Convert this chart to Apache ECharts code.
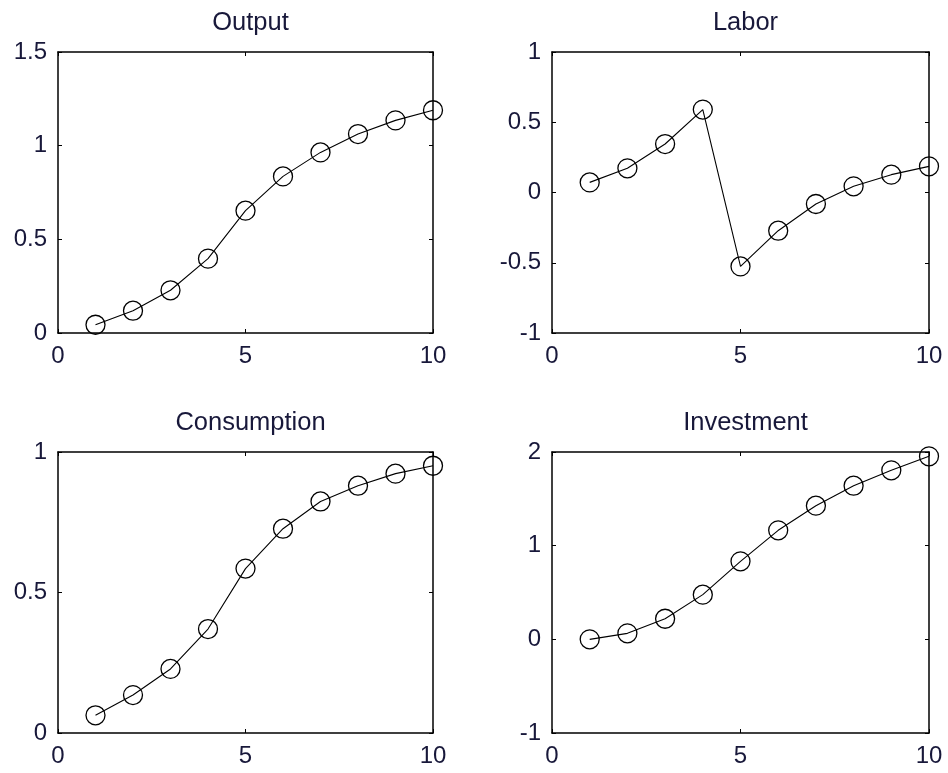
<!DOCTYPE html>
<html>
<head>
<meta charset="utf-8">
<script src="https://cdn.jsdelivr.net/npm/echarts@6/dist/echarts.min.js"></script>
<style>
html,body{margin:0;padding:0;background:#fff;}
#main{width:948px;height:773px;}
</style>
</head>
<body>
<div id="main"></div>
<script>
var periods = [1, 2, 3, 4, 5, 6, 7, 8, 9, 10];
var titles = ['Output', 'Labor', 'Consumption', 'Investment'];
var output = [0.044, 0.119, 0.228, 0.397, 0.653, 0.836, 0.964, 1.062, 1.135, 1.189];
var labor = [0.072, 0.172, 0.345, 0.590, -0.526, -0.272, -0.082, 0.044, 0.127, 0.186];
var consumption = [0.063, 0.135, 0.228, 0.370, 0.585, 0.727, 0.824, 0.880, 0.923, 0.951];
var investment = [0.000, 0.064, 0.220, 0.477, 0.833, 1.164, 1.427, 1.640, 1.804, 1.954];
var yRanges = [[0, 1.5, 0.5], [-1, 1, 0.5], [0, 1, 0.5], [-1, 2, 1]];
var xRange = [0, 10, 5];

var seriesValues = [output, labor, consumption, investment];
var gridBoxes = [
  {left: 58, top: 52, width: 375, height: 281},
  {left: 552, top: 52, width: 377, height: 281},
  {left: 58, top: 452, width: 375, height: 281},
  {left: 552, top: 452, width: 377, height: 281}
];
var textColor = '#18183a';
var fontFam = 'Liberation Sans, Arial, sans-serif';

var option = {
  backgroundColor: '#fff',
  animation: false,
  title: [], grid: [], xAxis: [], yAxis: [], series: []
};

function fmt(v) { return String(Math.round(v * 100) / 100); }

gridBoxes.forEach(function (g, i) {
  option.grid.push({left: g.left, top: g.top, width: g.width, height: g.height, containLabel: false});
  option.title.push({
    text: titles[i],
    left: g.left + g.width / 2,
    top: g.top - 47,
    textAlign: 'center',
    textStyle: {fontFamily: fontFam, fontSize: 25.5, fontWeight: 'normal', color: textColor}
  });
  var axLine = {show: true, onZero: false, lineStyle: {color: '#000', width: 1.5}};
  var tick = {show: true, inside: true, length: 4, lineStyle: {color: '#000', width: 1}};
  option.xAxis.push({
    type: 'value', gridIndex: i, position: 'bottom',
    min: xRange[0], max: xRange[1], interval: xRange[2],
    axisLine: axLine, axisTick: tick,
    axisLabel: {show: true, margin: 11, fontFamily: fontFam, fontSize: 24, color: textColor, formatter: fmt, showMinLabel: true, showMaxLabel: true},
    splitLine: {show: false}
  });
  option.xAxis.push({
    type: 'value', gridIndex: i, position: 'top',
    min: xRange[0], max: xRange[1], interval: xRange[2],
    axisLine: axLine, axisTick: tick,
    axisLabel: {show: false}, splitLine: {show: false}
  });
  var yr = yRanges[i];
  option.yAxis.push({
    type: 'value', gridIndex: i, position: 'left',
    min: yr[0], max: yr[1], interval: yr[2],
    axisLine: axLine, axisTick: tick,
    axisLabel: {show: true, margin: 11, fontFamily: fontFam, fontSize: 24, color: textColor, formatter: fmt, showMinLabel: true, showMaxLabel: true},
    splitLine: {show: false}
  });
  option.yAxis.push({
    type: 'value', gridIndex: i, position: 'right',
    min: yr[0], max: yr[1], interval: yr[2],
    axisLine: axLine, axisTick: tick,
    axisLabel: {show: false}, splitLine: {show: false}
  });
  option.series.push({
    type: 'line',
    xAxisIndex: i * 2,
    yAxisIndex: i * 2,
    data: periods.map(function (p, k) { return [p, seriesValues[i][k]]; }),
    symbol: 'circle',
    symbolSize: 19,
    showSymbol: true,
    clip: false,
    lineStyle: {color: '#000', width: 1.1},
    itemStyle: {color: 'rgba(255,255,255,0)', borderColor: '#000', borderWidth: 1.3},
    emphasis: {disabled: true},
    z: 5
  });
});

var chart = echarts.init(document.getElementById('main'), null, {renderer: 'canvas'});
chart.setOption(option);
</script>
</body>
</html>
